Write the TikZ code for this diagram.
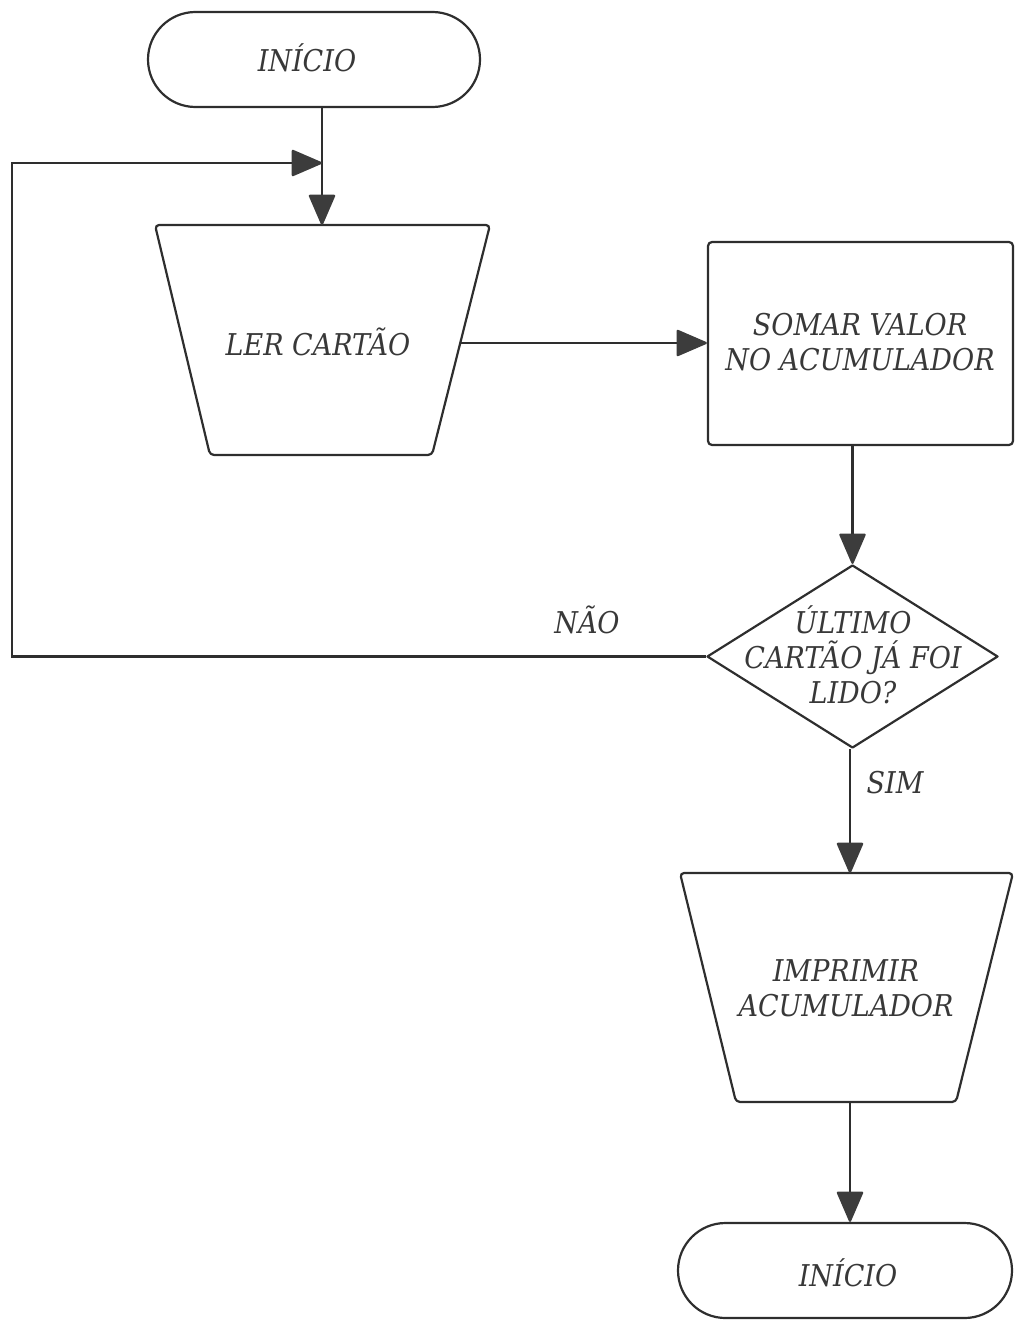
\documentclass[tikz,border=0pt]{standalone}
\usepackage{fontspec}
\newfontfamily\flowfont{DejaVu Serif}[FakeStretch=0.9]
\usetikzlibrary{arrows.meta,shapes.geometric,shapes.misc}
\definecolor{ink}{HTML}{2E2E2E}
\definecolor{tipc}{HTML}{3C3C3C}
\definecolor{txt}{HTML}{383838}
\begin{document}
\begin{tikzpicture}[x=1pt,y=-1pt,
  outline/.style={draw=ink, line width=2.2pt, line join=round},
  flow/.style={draw=ink, line width=2.2pt,
    -{Triangle[length=32pt,width=27pt,round,color=tipc]}},
  lbl/.style={font=\flowfont\fontsize{30}{35}\selectfont\itshape, text=txt,
    align=center, inner sep=0pt},
  terminal/.style={outline, rounded rectangle, inner sep=0pt},
  procbox/.style={outline, rectangle, rounded corners=4pt, inner sep=0pt},
  decision/.style={outline, diamond, inner sep=0pt},
]
\useasboundingbox (0,0) rectangle (1015,1330);

% start terminal
\node[terminal, minimum width=332pt, minimum height=95pt] (start) at (314,59.5) {};
\node[lbl] (startT) at (307,58) {INÍCIO};

% input: read card (inverted trapezium)
\draw[outline, rounded corners=4pt] (155,225) -- (490,225) -- (432,455) -- (210,455) -- cycle;
\coordinate (lerTop) at (322,225);
\coordinate (lerOut) at (460,343);
\node[lbl] (ler) at (318,342) {LER CARTÃO};

% process: add value
\node[procbox, minimum width=305pt, minimum height=203pt] (somar) at (860.5,343.5) {};
\node[lbl] (somarT) at (860,342) {SOMAR VALOR\\NO ACUMULADOR};

% decision
\node[decision, minimum width=291pt, minimum height=183pt] (dec) at (852.5,656.5) {};
\node[lbl] (decT) at (853,655) {ÚLTIMO\\CARTÃO JÁ FOI\\LIDO?};

% output: print accumulator (inverted trapezium)
\draw[outline, rounded corners=4pt] (680,873) -- (1013,873) -- (956,1102) -- (736,1102) -- cycle;
\coordinate (impTop) at (850,873);
\coordinate (impBot) at (850,1102);
\node[lbl] (imp) at (846,988) {IMPRIMIR\\ACUMULADOR};

% end terminal
\node[terminal, minimum width=334pt, minimum height=95pt] (stop) at (845,1270.5) {};
\node[lbl] (stopT) at (848,1273) {INÍCIO};

% loop-back path
\coordinate (loopBot) at (12,654);
\coordinate (join) at (322,163);

% connectors
\draw[flow] (lerTop |- start.south) -- (lerTop);
\draw[flow] (dec.west) -- (dec.west -| loopBot) |- (join);
\draw[flow] (lerOut) -- (lerOut -| somar.west);
\draw[flow] (somar.south -| dec.north) -- (dec.north);
\draw[flow] (impTop |- dec.south) -- (impTop);
\draw[flow] (impBot) -- (impBot |- stop.north);

% branch labels
\node[lbl] (nao) at (587,620) {NÃO};
\node[lbl] (sim) at (895,783) {SIM};
\end{tikzpicture}
\end{document}
